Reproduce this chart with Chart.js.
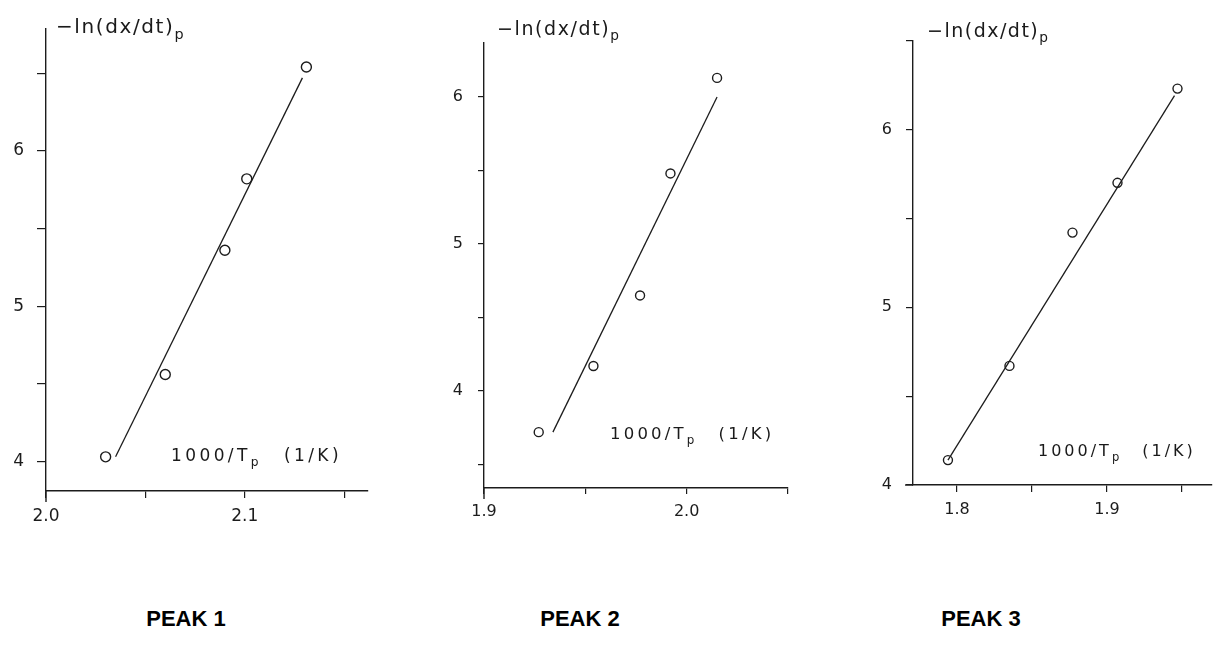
<!DOCTYPE html>
<html><head><meta charset="utf-8">
<script src="https://cdn.jsdelivr.net/npm/chart.js@4/dist/chart.umd.min.js"></script>
<style>
html,body{margin:0;padding:0;background:#fff;width:1217px;height:647px;overflow:hidden;position:relative}
.box{position:absolute}
.t{position:absolute;font-family:"DejaVu Sans",sans-serif;color:#1a1a1a;white-space:nowrap;line-height:1}
.t sub{font-size:0.72em;vertical-align:-0.4em;line-height:0}
.peak{position:absolute;font-family:"Liberation Sans",Arial,sans-serif;font-weight:bold;font-size:22px;color:#000;transform:translateX(-50%);white-space:nowrap;line-height:1}
</style></head><body>
<div class="box" id="b1"><canvas id="c1"></canvas></div>
<div class="box" id="b2"><canvas id="c2"></canvas></div>
<div class="box" id="b3"><canvas id="c3"></canvas></div>

<div class="t" style="left:56px;top:16px;font-size:20px;letter-spacing:1.6px">−ln(dx/dt)<sub>p</sub></div>
<div class="t" style="left:497px;top:19px;font-size:19px;letter-spacing:1.6px">−ln(dx/dt)<sub>p</sub></div>
<div class="t" style="left:927px;top:21px;font-size:19px;letter-spacing:1.5px">−ln(dx/dt)<sub>p</sub></div>

<div class="t" style="left:171px;top:447px;font-size:17px;letter-spacing:3.4px">1000/T<sub>p</sub><span style="margin-left:22px">(1/K)</span></div>
<div class="t" style="left:610px;top:426px;font-size:16.5px;letter-spacing:3.2px">1000/T<sub>p</sub><span style="margin-left:21px">(1/K)</span></div>
<div class="t" style="left:1038px;top:443px;font-size:16px;letter-spacing:3px">1000/T<sub>p</sub><span style="margin-left:20px">(1/K)</span></div>

<div class="peak" style="left:186px;top:608px">PEAK 1</div>
<div class="peak" style="left:580px;top:608px">PEAK 2</div>
<div class="peak" style="left:981px;top:608px">PEAK 3</div>

<script>
// ---- Data ----
const P1_X = [2.030, 2.060, 2.090, 2.101, 2.131];
const P1_Y = [4.03, 4.56, 5.36, 5.82, 6.54];
const P1_FIT_X = [2.035, 2.129];
const P1_FIT_Y = [4.03, 6.47];
const P1_XTICKS = [2.0, 2.05, 2.1, 2.15];
const P1_YTICKS = [4, 4.5, 5, 5.5, 6, 6.5];

const P2_X = [1.927, 1.954, 1.977, 1.992, 2.015];
const P2_Y = [3.72, 4.17, 4.65, 5.48, 6.13];
const P2_FIT_X = [1.934, 2.015];
const P2_FIT_Y = [3.72, 6.00];
const P2_XTICKS = [1.9, 1.95, 2.0, 2.05];
const P2_YTICKS = [3.5, 4, 4.5, 5, 5.5, 6];

const P3_X = [1.794, 1.835, 1.877, 1.907, 1.947];
const P3_Y = [4.14, 4.67, 5.42, 5.70, 6.23];
const P3_FIT_X = [1.794, 1.945];
const P3_FIT_Y = [4.14, 6.19];
const P3_XTICKS = [1.8, 1.85, 1.9, 1.95];
const P3_YTICKS = [4, 4.5, 5, 5.5, 6, 6.5];

const INK = '#1c1c1c';
const YW = 60, XH = 50, PT = 16, PR = 14;

function isMajor(v, step) { const r = v / step; return Math.abs(r - Math.round(r)) < 1e-6; }

// Extends the axis lines past the corner, as in the plotter drawing
const axisExtend = {
  id: 'axisExtend',
  afterDraw(chart, args, opts) {
    const { ctx, chartArea: a } = chart;
    ctx.save();
    ctx.strokeStyle = INK; ctx.lineWidth = 1.4;
    ctx.beginPath();
    if (opts.below) { ctx.moveTo(a.left, a.bottom); ctx.lineTo(a.left, a.bottom + opts.below); }
    if (opts.left) { ctx.moveTo(a.left, a.bottom); ctx.lineTo(a.left - opts.left, a.bottom); }
    ctx.stroke();
    ctx.restore();
  }
};

function makePanel(n, area, xs, ys, fx, fy, xt, yt, xr, yr, st) {
  const box = document.getElementById('b' + n);
  const left = area.l - YW, top = area.t - PT;
  box.style.left = left + 'px';
  box.style.top = top + 'px';
  box.style.width = (area.r + PR - left) + 'px';
  box.style.height = (area.b + XH - top) + 'px';
  const tickFont = { family: 'DejaVu Sans', size: st.fs };
  new Chart(document.getElementById('c' + n), {
    type: 'scatter',
    data: {
      datasets: [
        { data: xs.map((x, i) => ({ x, y: ys[i] })), showLine: false, pointStyle: 'circle',
          pointRadius: st.r, pointBorderWidth: 1.4, pointBorderColor: INK,
          pointBackgroundColor: 'rgba(255,255,255,0)', clip: false },
        { data: fx.map((x, i) => ({ x, y: fy[i] })), showLine: true, pointRadius: 0,
          borderColor: INK, borderWidth: 1.3, clip: false }
      ]
    },
    plugins: [axisExtend],
    options: {
      responsive: true, maintainAspectRatio: false, animation: false,
      layout: { padding: { top: PT, right: PR, left: 0, bottom: 0 } },
      plugins: { legend: { display: false }, tooltip: { enabled: false },
                 axisExtend: { below: st.below, left: st.extLeft } },
      scales: {
        x: {
          type: 'linear', min: xr[0], max: xr[1],
          afterBuildTicks: s => { s.ticks = xt.map(v => ({ value: v })); },
          afterFit: s => { s.height = XH; },
          ticks: { callback: v => isMajor(v, 0.1) ? v.toFixed(1) : '', maxRotation: 0, autoSkip: false,
                   font: tickFont, color: INK, padding: st.xpad },
          grid: { display: true, drawOnChartArea: false, drawTicks: true, tickLength: st.xtl, color: INK, lineWidth: 1.2 },
          border: { display: true, color: INK, width: 1.4 }
        },
        y: {
          type: 'linear', min: yr[0], max: yr[1],
          afterBuildTicks: s => { s.ticks = yt.map(v => ({ value: v })); },
          afterFit: s => { s.width = YW; },
          ticks: { callback: v => isMajor(v, 1) ? String(Math.round(v)) : '', autoSkip: false,
                   font: tickFont, color: INK, padding: st.ypad },
          grid: { display: true, drawOnChartArea: false, drawTicks: true, tickLength: st.ytl, color: INK, lineWidth: 1.2 },
          border: { display: true, color: INK, width: 1.4 }
        }
      }
    }
  });
}

makePanel(1, { l: 46, t: 21, r: 368, b: 491 }, P1_X, P1_Y, P1_FIT_X, P1_FIT_Y, P1_XTICKS, P1_YTICKS,
          [2.0, 2.162], [3.81, 6.79], { fs: 17, r: 5, xpad: 8, ypad: 13, xtl: 7, ytl: 9, below: 11, extLeft: 0 });
makePanel(2, { l: 484, t: 34, r: 788, b: 488 }, P2_X, P2_Y, P2_FIT_X, P2_FIT_Y, P2_XTICKS, P2_YTICKS,
          [1.9, 2.05], [3.34, 6.37], { fs: 16, r: 4.5, xpad: 8, ypad: 15, xtl: 6, ytl: 6, below: 11, extLeft: 0 });
makePanel(3, { l: 913, t: 33, r: 1212, b: 485 }, P3_X, P3_Y, P3_FIT_X, P3_FIT_Y, P3_XTICKS, P3_YTICKS,
          [1.7707, 1.97], [4, 6.5], { fs: 16, r: 4.5, xpad: 8, ypad: 14, xtl: 7, ytl: 7, below: 0, extLeft: 8 });
</script>
</body></html>
